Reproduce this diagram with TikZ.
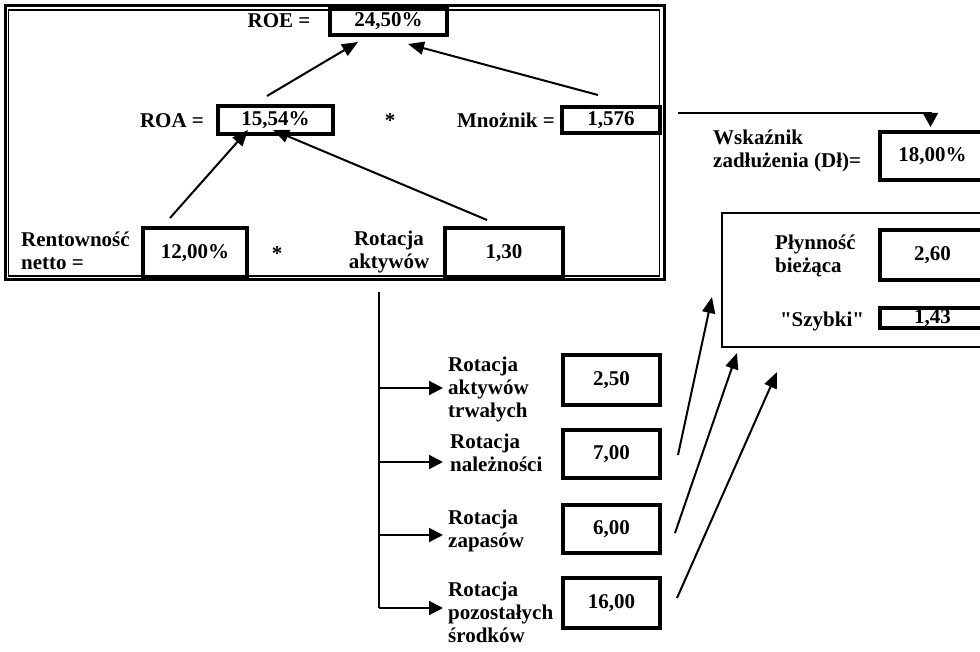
\documentclass[tikz,border=0pt]{standalone}
\usepackage{fontspec}
\setmainfont{Liberation Serif}
\usetikzlibrary{arrows.meta}
\begin{document}
\begin{tikzpicture}[x=1pt,y=-1pt,
  every node/.style={font=\bfseries\fontsize{21}{23}\selectfont, inner sep=0pt},
  lbl/.style={align=left},
  valbox/.style={draw, line width=3.2pt, inner sep=0pt},
  arr/.style={line width=2pt, -{Triangle[length=16pt,width=13pt]}},
  brarr/.style={line width=2pt, -{Triangle[length=14pt,width=14pt]}},
  trunk/.style={line width=2pt}]
\useasboundingbox (0,0) rectangle (980,652);
\clip (0,0) rectangle (980,652);

% main double frame
\draw[line width=3pt] (5,6) rectangle (664,279.5);
\draw[line width=1.3pt] (8.5,10) rectangle (659.5,276);

% top level
\node (roeL) at (279,21) {ROE =};
\node[valbox, minimum width=117pt, minimum height=27pt] (roe) at (388.5,21.5) {24,50\%};

\node (roaL) at (172,121) {ROA =};
\node[valbox, minimum width=115pt, minimum height=28pt] (roa) at (275.5,120) {15,54\%};
\node (star1) at (390,121) {*};
\node (mnL) at (506,120) {Mnożnik =};
\node[valbox, minimum width=98pt, minimum height=26pt] (mn) at (611,120) {1,576};

\node[lbl, anchor=west] (rentL) at (21,251) {Rentowność\\netto =};
\node[valbox, minimum width=104pt, minimum height=50pt] (rent) at (195,253) {12,00\%};
\node (star2) at (277,254) {*};
\node[align=center] (rotL) at (389,252) {Rotacja\\aktywów};
\node[valbox, minimum width=118pt, minimum height=50pt] (rot) at (504,253) {1,30};

% arrows in the frame
\coordinate (a1s) at (267,96);  \coordinate (a1e) at (358,42);
\coordinate (a2s) at (598,95);  \coordinate (a2e) at (408,44);
\coordinate (a3s) at (170,218); \coordinate (a3e) at (248,130);
\coordinate (a4s) at (487,220); \coordinate (a4e) at (273,130);
\draw[arr] (a1s) -- (a1e);
\draw[arr] (a2s) -- (a2e);
\draw[arr] (a3s) -- (a3e);
\draw[arr] (a4s) -- (a4e);

% debt ratio
\node[lbl, anchor=west] (debtL) at (713,151) {Wskaźnik\\zadłużenia (Dł)=};
\node[valbox, minimum width=105pt, minimum height=48pt] (debt) at (932.5,156) {18,00\%};
\coordinate (mnOut) at (678,113);
\coordinate (debtIn) at (930.5,127);
\draw[line width=2pt, -{Triangle[length=14pt,width=15pt]}] (mnOut) -| (debtIn);

% liquidity frame
\draw[line width=2pt] (722,213) rectangle (995,347);
\node[lbl, anchor=west] (curL) at (775,256) {Płynność\\bieżąca};
\node[valbox, minimum width=105pt, minimum height=50pt] (cur) at (932.5,255) {2,60};
\node (quickL) at (822,321) {\textquotedbl Szybki\textquotedbl};
\node[valbox, minimum width=105pt, minimum height=20pt] (quick) at (932.5,318) {1,43};

% trunk and branches
\coordinate (tTop) at (379,292);
\coordinate (br1) at (379,388); \coordinate (tip1) at (443,388);
\coordinate (br2) at (379,462); \coordinate (tip2) at (443,462);
\coordinate (br3) at (379,535); \coordinate (tip3) at (443,535);
\coordinate (br4) at (379,608); \coordinate (tip4) at (443,608);
\draw[trunk] (tTop) -- (br4);
\draw[brarr] (br1) -- (tip1);
\draw[brarr] (br2) -- (tip2);
\draw[brarr] (br3) -- (tip3);
\draw[brarr] (br4) -- (tip4);

\node[lbl, anchor=west] (r1L) at (448,389) {Rotacja\\aktywów\\trwałych};
\node[lbl, anchor=west] (r2L) at (450,453) {Rotacja\\należności};
\node[lbl, anchor=west] (r3L) at (448,531) {Rotacja\\zapasów};
\node[lbl, anchor=west] (r4L) at (448,612) {Rotacja\\pozostałych\\środków};

\node[valbox, minimum width=97pt, minimum height=50pt] (b1) at (611.5,380) {2,50};
\node[valbox, minimum width=97pt, minimum height=48pt] (b2) at (611.5,454) {7,00};
\node[valbox, minimum width=97pt, minimum height=48pt] (b3) at (611.5,529) {6,00};
\node[valbox, minimum width=97pt, minimum height=50pt] (b4) at (611.5,603) {16,00};

% arrows to liquidity
\coordinate (l1s) at (678,455); \coordinate (l1e) at (712,297);
\coordinate (l2s) at (675,533); \coordinate (l2e) at (737,353);
\coordinate (l3s) at (677,598); \coordinate (l3e) at (777,372);
\draw[arr] (l1s) -- (l1e);
\draw[arr] (l2s) -- (l2e);
\draw[arr] (l3s) -- (l3e);
\end{tikzpicture}
\end{document}
